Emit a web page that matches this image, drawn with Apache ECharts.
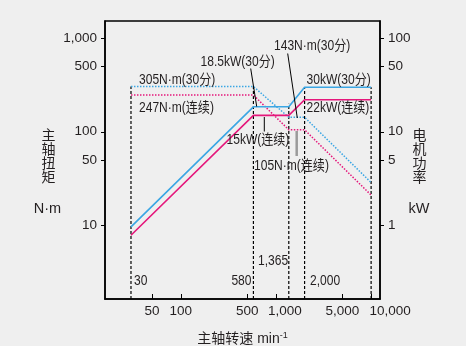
<!DOCTYPE html>
<html>
<head>
<meta charset="utf-8">
<script src="https://cdn.jsdelivr.net/npm/echarts@6/dist/echarts.min.js"></script>
<style>
html,body{margin:0;padding:0;background:#efefef;}
#chart{width:466px;height:346px;}
</style>
</head>
<body>
<div id="chart"></div>
<script>
// Spindle speed / torque / power characteristic (log-log)
const speedTicks = [50, 100, 500, 1000, 5000, 10000];
const torqueTicks = [10, 50, 100, 500, 1000];
const powerTicks = [1, 5, 10, 50, 100];

// corner speeds, min^-1
const speeds = [30, 580, 1365, 2000, 10000];
// torque, N·m
const torque30 = [305, 305, 143, 143, 28.6];
const torqueCont = [247, 247, 105, 105, 21];
// power, kW
const power30 = [0.96, 18.5, 18.5, 30, 30];
const powerCont = [0.78, 15, 15, 22, 22];
// top of each vertical guide line, N·m
const guideTops = [305, 305, 200, 300, 300];

const BLUE = '#3aa6e4';
const PINK = '#e5177b';
const INK = '#231f20';
const FONT = '"Liberation Sans", Arial, "Noto Sans CJK SC", sans-serif';
const CJK = '"Noto Sans CJK SC", sans-serif';

const fmt = v => v.toLocaleString('en-US');
const pairs = (xs, ys) => xs.map((x, i) => [x, ys[i]]);

const SPEED_MIN = 16, SPEED_MAX = 12400;
const TORQUE_MIN = 1.62, TORQUE_MAX = 1535;

// plot frame
const GRID = { left: 105, right: 86, top: 21, bottom: 47 };
const W = 466, H = 346;

const guideSeries = speeds.map((s, i) => ({
  type: 'line',
  yAxisIndex: 0,
  data: [[s, TORQUE_MIN], [s, guideTops[i]]],
  symbol: 'none',
  silent: true,
  lineStyle: { color: '#000', width: 1.2, type: [3, 2] },
  z: 1
}));

function note(x, y, s, align) {
  return {
    type: 'text', x: x, y: y, scaleX: 0.86, z: 20,
    style: {
      text: s, x: 0, y: 0, align: align || 'left', verticalAlign: 'middle',
      fontSize: 14, fontFamily: FONT, fill: INK
    }
  };
}
function leader(x1, y1, x2, y2, color, w) {
  return {
    type: 'line', z: 19,
    shape: { x1: x1, y1: y1, x2: x2, y2: y2 },
    style: { stroke: color || '#000', lineWidth: w || 1 }
  };
}

const chart = echarts.init(document.getElementById('chart'));
chart.setOption({
  backgroundColor: '#efefef',
  animation: false,
  grid: Object.assign({ outerBoundsMode: 'none', containLabel: false }, GRID),
  xAxis: {
    type: 'log', logBase: 10, min: SPEED_MIN, max: SPEED_MAX, position: 'bottom',
    name: '主轴转速 min{sup|-1}', nameLocation: 'middle', nameGap: 32,
    nameTextStyle: {
      fontSize: 14, fontFamily: FONT, color: INK,
      rich: { sup: { fontSize: 9, fontFamily: FONT, color: INK, padding: [0, 0, 8, 0] } }
    },
    axisLine: { show: true, onZero: false, lineStyle: { color: '#000', width: 1.5 } },
    axisTick: { show: true, inside: true, length: 5, customValues: speedTicks, lineStyle: { color: '#000', width: 1 } },
    axisLabel: {
      customValues: speedTicks, margin: 6, fontSize: 13.5, fontFamily: FONT, color: INK,
      formatter: v => v === 1000 ? '{a|1,000}' : v === 10000 ? '{b|10,000}' : fmt(v),
      rich: {
        a: { fontSize: 13.5, fontFamily: FONT, color: INK, padding: [0, 0, 0, 18] },
        b: { fontSize: 13.5, fontFamily: FONT, color: INK, padding: [0, 0, 0, 38] }
      }
    },
    splitLine: { show: false }
  },
  yAxis: [
    {
      type: 'log', logBase: 10, min: TORQUE_MIN, max: TORQUE_MAX, position: 'left',
      axisLine: { show: true, onZero: false, lineStyle: { color: '#000', width: 1.5 } },
      axisTick: { show: true, length: 4, customValues: torqueTicks, lineStyle: { color: '#000', width: 1 } },
      axisLabel: { customValues: torqueTicks, margin: 8, fontSize: 13.5, fontFamily: FONT, color: INK, formatter: v => fmt(v) },
      splitLine: { show: false }
    },
    {
      type: 'log', logBase: 10, min: TORQUE_MIN / 10, max: TORQUE_MAX / 10, position: 'right',
      axisLine: { show: true, onZero: false, lineStyle: { color: '#000', width: 1.5 } },
      axisTick: { show: true, length: 4, customValues: powerTicks, lineStyle: { color: '#000', width: 1 } },
      axisLabel: { customValues: powerTicks, margin: 8, fontSize: 13.5, fontFamily: FONT, color: INK, formatter: v => fmt(v) },
      splitLine: { show: false }
    }
  ],
  series: guideSeries.concat([
    {
      name: 'torque 30min', type: 'line', yAxisIndex: 0, data: pairs(speeds, torque30),
      symbol: 'none', lineStyle: { color: BLUE, width: 1.5, type: [1.5, 1.5] }, z: 3
    },
    {
      name: 'torque cont', type: 'line', yAxisIndex: 0, data: pairs(speeds, torqueCont),
      symbol: 'none', lineStyle: { color: PINK, width: 1.5, type: [1.5, 1.5] }, z: 3
    },
    {
      name: 'power 30min', type: 'line', yAxisIndex: 1, data: pairs(speeds, power30),
      symbol: 'none', lineStyle: { color: BLUE, width: 1.6 }, z: 4
    },
    {
      name: 'power cont', type: 'line', yAxisIndex: 1, data: pairs(speeds, powerCont),
      symbol: 'none', lineStyle: { color: PINK, width: 1.6 }, z: 4
    }
  ]),
  graphic: [
    // frame around the plot area
    {
      type: 'rect', z: 18, silent: true,
      shape: { x: GRID.left, y: GRID.top, width: W - GRID.left - GRID.right, height: H - GRID.top - GRID.bottom },
      style: { fill: 'none', stroke: '#000', lineWidth: 1.5 }
    },
    // axis titles
    { type: 'text', x: 48.5, y: 128, z: 20, style: { text: '主\n轴\n扭\n矩', align: 'center', verticalAlign: 'top', fontSize: 14, lineHeight: 14, fontFamily: CJK, fill: INK } },
    { type: 'text', x: 47.5, y: 209, z: 20, style: { text: 'N·m', align: 'center', verticalAlign: 'middle', fontSize: 14.5, fontFamily: FONT, fill: INK } },
    { type: 'text', x: 419.5, y: 128, z: 20, style: { text: '电\n机\n功\n率', align: 'center', verticalAlign: 'top', fontSize: 14, lineHeight: 14, fontFamily: CJK, fill: INK } },
    { type: 'text', x: 419, y: 209, z: 20, style: { text: 'kW', align: 'center', verticalAlign: 'middle', fontSize: 14.5, fontFamily: FONT, fill: INK } },
    // curve annotations
    note(139, 80, '305N·m(30分)'),
    note(139, 108, '247N·m(连续)'),
    note(200.5, 62.5, '18.5kW(30分)'),
    note(274, 46.5, '143N·m(30分)'),
    note(306.5, 80, '30kW(30分)'),
    note(306.5, 108, '22kW(连续)'),
    note(226.5, 140.5, '15kW(连续)'),
    note(254, 166.5, '105N·m(连续)'),
    // speed markers
    note(258, 261, '1,365'),
    note(134, 281, '30'),
    note(251.5, 281, '580', 'right'),
    note(310, 281, '2,000'),
    // leader lines
    leader(250.7, 68.5, 256.7, 106.5),
    leader(287.7, 53.5, 297.3, 118),
    leader(264.3, 117, 264.3, 131.5),
    leader(296.7, 131, 296.7, 156, '#9a9a9a', 2.5)
  ]
});
</script>
</body>
</html>
